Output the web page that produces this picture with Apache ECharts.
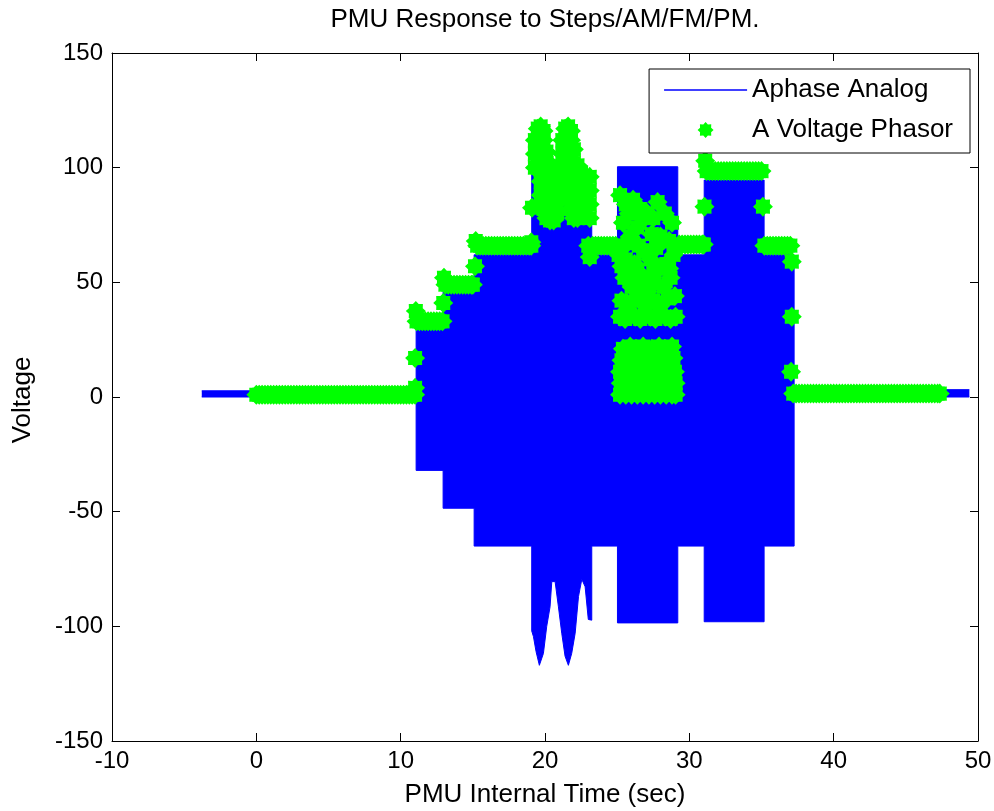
<!DOCTYPE html>
<html>
<head>
<meta charset="utf-8">
<title>PMU Response to Steps/AM/FM/PM.</title>
<script src="https://cdn.jsdelivr.net/npm/echarts@6/dist/echarts.min.js"></script>
<style>
  html, body { margin: 0; padding: 0; background: #fff; }
  #chart { width: 994px; height: 811px; }
</style>
</head>
<body>
<div id="chart"></div>
<script>
// analog waveform: time and upper / lower envelope of the dense sine
const analogT = [-3.78, 11.07, 11.07, 12.94, 12.94, 15.09, 15.09, 19.08, 19.08, 19.2, 19.38, 19.61, 19.89, 20.12, 20.35, 20.47, 20.7, 20.93, 21.16, 21.39, 21.62, 21.85, 22.09, 22.32, 22.55, 22.78, 23.0, 23.24, 23.24, 25.02, 25.02, 29.2, 29.2, 31.03, 31.03, 35.18, 35.18, 37.26, 37.26, 49.4];
const analogHi = [2.7, 2.7, 32, 32, 48.5, 48.5, 62, 62, 102, 104.5, 111, 117, 111.8, 100, 91.5, 80.5, 80.5, 91.5, 103, 113, 117, 111.8, 103, 87, 79.5, 82.7, 97, 97.3, 62, 62, 100.4, 100.4, 62, 62, 94.6, 94.6, 62, 62, 3.2, 3.2];
const analogLo = [0, 0, -32, -32, -48.5, -48.5, -65, -65, -102, -104.5, -111, -117, -111.8, -100, -91.5, -80.5, -80.5, -91.5, -103, -113, -117, -111.8, -103, -87, -79.5, -82.7, -97, -97.3, -65, -65, -98.5, -98.5, -65, -65, -98, -98, -65, -65, 0, 0];

// phasor magnitude: flat stretches (one level each, with their sample times)
const bandLevels = [1, 33, 49, 66, 66, 66.5, 98.5, 66, 1.5];
const bandTimes = [
  [0, 0.2, 0.4, 0.6, 0.8, 1, 1.2, 1.4, 1.6, 1.8, 2, 2.2, 2.4, 2.6, 2.8, 3, 3.2, 3.4, 3.6, 3.8, 4, 4.2, 4.4, 4.6, 4.8, 5, 5.2, 5.4, 5.6, 5.8, 6, 6.2, 6.4, 6.6, 6.8, 7, 7.2, 7.4, 7.6, 7.8, 8, 8.2, 8.4, 8.6, 8.8, 9, 9.2, 9.4, 9.6, 9.8, 10, 10.2, 10.4, 10.6, 10.8, 11],
  [11.1, 11.3, 11.5, 11.7, 11.9, 12.1, 12.3, 12.5, 12.7, 12.9],
  [13.1, 13.3, 13.5, 13.7, 13.9, 14.1, 14.3, 14.5, 14.7, 14.9, 15.0],
  [15.3, 15.5, 15.7, 15.9, 16.1, 16.3, 16.5, 16.7, 16.9, 17.1, 17.3, 17.5, 17.7, 17.9, 18.1, 18.3, 18.5, 18.7, 18.9, 19.05],
  [23.3, 23.5, 23.7, 23.9, 24.1, 24.3, 24.5, 24.7, 24.9],
  [29.3, 29.5, 29.7, 29.9, 30.1, 30.3, 30.5, 30.7, 30.9, 31.0],
  [31.2, 31.4, 31.6, 31.8, 32.0, 32.2, 32.4, 32.6, 32.8, 33.0, 33.2, 33.4, 33.6, 33.8, 34.0, 34.2, 34.4, 34.6, 34.8, 35.0],
  [35.2, 35.4, 35.6, 35.8, 36.0, 36.2, 36.4, 36.6, 36.8, 37.0],
  [37.2, 37.4, 37.6, 37.8, 38, 38.2, 38.4, 38.6, 38.8, 39, 39.2, 39.4, 39.6, 39.8, 40, 40.2, 40.4, 40.6, 40.8, 41, 41.2, 41.4, 41.6, 41.8, 42, 42.2, 42.4, 42.6, 42.8, 43, 43.2, 43.4, 43.6, 43.8, 44, 44.2, 44.4, 44.6, 44.8, 45, 45.2, 45.4, 45.6, 45.8, 46, 46.2, 46.4, 46.6, 46.8, 47, 47.2, 47.35]
];

// phasor samples at the step edges
const phasorEdges = [[11.0, 4], [11.0, 17], [11.05, 37.5], [12.95, 41], [13.0, 52], [15.15, 57], [15.2, 68], [19.05, 67.5], [19.1, 82.5], [23.0, 66], [23.1, 61], [31.05, 83], [31.1, 103], [35.1, 83], [37.1, 59], [37.1, 35], [37.05, 11]];

// phasor samples during the AM section
const phasorAM = [
  [19.3, 100], [19.3, 106], [19.3, 112],
  [19.5, 100], [19.5, 106], [19.5, 112], [19.5, 117],
  [19.6, 109], [19.8, 97], [20.0, 91], [20.2, 99], [20.5, 86], [20.7, 92],
  [19.7, 88], [19.7, 94], [19.7, 100], [19.7, 106], [19.7, 112], [19.7, 118],
  [19.9, 82], [19.9, 88], [19.9, 94], [19.9, 100], [19.9, 106], [19.9, 112], [19.9, 116],
  [20.1, 78], [20.1, 84], [20.1, 90], [20.1, 96], [20.1, 102], [20.1, 107],
  [20.35, 77], [20.35, 83], [20.35, 89], [20.35, 95], [20.35, 100],
  [20.6, 77], [20.6, 83], [20.6, 89], [20.6, 95], [20.6, 100],
  [20.85, 80], [20.85, 86], [20.85, 92],
  [21.2, 100], [21.2, 106], [21.2, 112],
  [21.3, 103], [21.5, 109], [21.7, 97], [21.9, 91], [22.1, 99], [22.4, 87], [22.6, 95], [22.9, 85],
  [21.4, 94], [21.4, 100], [21.4, 106], [21.4, 112], [21.4, 117],
  [21.6, 88], [21.6, 94], [21.6, 100], [21.6, 106], [21.6, 112], [21.6, 118],
  [21.8, 82], [21.8, 88], [21.8, 94], [21.8, 100], [21.8, 106], [21.8, 112], [21.8, 116],
  [22.0, 78], [22.0, 84], [22.0, 90], [22.0, 96], [22.0, 102], [22.0, 108],
  [22.25, 78], [22.25, 84], [22.25, 90], [22.25, 96], [22.25, 101],
  [22.5, 80], [22.5, 86], [22.5, 92], [22.5, 98],
  [22.75, 82], [22.75, 88], [22.75, 94],
  [23.1, 78], [23.1, 84], [23.1, 90], [23.1, 96]
];

// phasor samples during the FM section
const phasorFM = [
  [25.2, 1], [25.6, 1], [26.0, 1], [26.4, 1], [26.8, 1], [27.2, 1], [27.6, 1], [28.0, 1], [28.4, 1], [28.8, 1], [29.05, 1],
  [25.25, 6], [25.65, 6], [26.05, 6], [26.45, 6], [26.85, 6], [27.25, 6], [27.65, 6], [28.05, 6], [28.45, 6], [28.85, 6], [29.05, 6],
  [25.2, 11], [25.6, 12], [26.0, 11], [26.4, 12], [26.8, 11], [27.2, 12], [27.6, 11], [28.0, 12], [28.4, 11], [28.8, 12], [29.0, 11],
  [25.3, 16], [25.7, 17], [26.1, 16], [26.5, 17], [26.9, 16], [27.3, 17], [27.7, 16], [28.1, 17], [28.5, 16], [28.9, 17],
  [25.4, 21], [25.9, 22], [26.3, 21], [26.8, 22], [27.4, 21], [27.9, 22], [28.3, 21], [28.8, 22],
  [25.2, 35], [25.55, 34], [25.9, 36], [26.25, 35], [26.6, 34], [26.95, 36], [27.3, 35], [27.65, 34], [28.0, 36], [28.35, 35], [28.7, 34], [29.05, 35],
  [25.3, 42], [25.8, 40], [26.4, 44], [26.9, 40], [27.5, 42], [28.0, 40], [28.5, 43], [29.0, 44],
  [25.5, 52], [26.0, 48], [26.6, 51], [27.1, 46], [27.6, 50], [28.2, 48], [28.7, 52],
  [25.3, 57], [26.4, 55], [27.5, 54], [28.6, 56],
  [25.1, 62], [25.6, 60], [26.2, 58], [26.8, 64], [27.3, 60], [27.9, 56], [28.4, 58], [28.9, 62],
  [25.7, 67], [26.5, 66], [27.7, 65],
  [25.4, 76], [25.9, 70], [26.4, 74], [26.9, 78], [27.4, 71], [28.0, 70], [28.6, 68],
  [25.8, 80], [26.7, 79], [27.5, 78],
  [25.2, 88], [25.6, 84], [26.1, 86], [26.6, 82], [27.1, 80], [27.8, 85], [28.3, 80], [28.8, 76]
];

const xTicks = { min: -10, max: 50, interval: 10 };
const yTicks = { min: -150, max: 150, interval: 50 };

const font = "'Liberation Sans', Arial, Helvetica, sans-serif";
// fat eight-armed asterisk, like a heavy '*' marker
const starPath = 'path://M20 10L16.93 12.87L17.07 17.07L12.87 16.93L10 20L7.13 16.93L2.93 17.07L3.07 12.87L0 10L3.07 7.13L2.93 2.93L7.13 3.07L10 0L12.87 3.07L17.07 2.93L16.93 7.13Z';
const lineIcon = 'path://M0 0H83V1.6H0Z';

const upper = analogT.map((t, i) => [t, analogHi[i]]);
const lower = analogT.map((t, i) => [t, analogLo[i]]);
let phasor = [];
bandTimes.forEach((times, b) => {
  times.forEach(t => phasor.push([t, bandLevels[b]]));
});
phasor = phasor.concat(phasorEdges, phasorAM, phasorFM);

const axisLine = { show: true, onZero: false, lineStyle: { color: '#000', width: 1 } };
const axisTick = { show: true, inside: true, length: 8, lineStyle: { color: '#000', width: 1 } };
const tickText = { color: '#000', fontSize: 24, fontFamily: font };
const labelText = { color: '#000', fontSize: 26, fontFamily: font };

const chart = echarts.init(document.getElementById('chart'), null, { renderer: 'canvas' });
chart.setOption({
  animation: false,
  backgroundColor: '#fff',
  title: {
    text: 'PMU Response to Steps/AM/FM/PM.',
    left: 545,
    top: 0,
    textAlign: 'center',
    padding: [7, 0, 0, 0],
    textStyle: { color: '#000', fontSize: 26, fontWeight: 'normal', fontFamily: font }
  },
  legend: {
    data: [
      { name: 'Aphase Analog', icon: lineIcon },
      { name: 'A Voltage Phasor', icon: starPath }
    ],
    orient: 'vertical',
    align: 'left',
    right: 24,
    top: 69,
    padding: [8, 17, 10, 15],
    itemGap: 14,
    itemWidth: 83,
    itemHeight: 16,
    symbolKeepAspect: true,
    backgroundColor: '#fff',
    borderColor: '#000',
    borderWidth: 1,
    borderRadius: 0,
    selectedMode: false,
    textStyle: labelText
  },
  grid: { left: 112, right: 16, top: 53, bottom: 70, outerBoundsMode: 'none', containLabel: false },
  xAxis: [
    {
      type: 'value', position: 'bottom', ...xTicks,
      axisLine, axisTick,
      axisLabel: Object.assign({ margin: 8 }, tickText),
      splitLine: { show: false },
      name: 'PMU Internal Time (sec)', nameLocation: 'middle', nameGap: 41,
      nameTextStyle: labelText
    },
    {
      type: 'value', position: 'top', ...xTicks,
      axisLine, axisTick, axisLabel: { show: false }, splitLine: { show: false }
    }
  ],
  yAxis: [
    {
      type: 'value', position: 'left', ...yTicks,
      axisLine, axisTick,
      axisLabel: Object.assign({ margin: 9 }, tickText),
      splitLine: { show: false },
      name: 'Voltage', nameLocation: 'middle', nameGap: 76,
      nameTextStyle: Object.assign({ padding: [0, 6, 0, 0] }, labelText)
    },
    {
      type: 'value', position: 'right', ...yTicks,
      axisLine, axisTick, axisLabel: { show: false }, splitLine: { show: false }
    }
  ],
  series: [
    {
      name: 'Aphase Analog', type: 'line', data: upper, symbol: 'none', silent: true,
      lineStyle: { color: '#0000ff', width: 1 }, itemStyle: { color: '#0000ff' },
      areaStyle: { color: '#0000ff', opacity: 1 }, z: 2
    },
    {
      name: 'Aphase Analog', type: 'line', data: lower, symbol: 'none', silent: true,
      lineStyle: { color: '#0000ff', width: 1 }, itemStyle: { color: '#0000ff' },
      areaStyle: { color: '#0000ff', opacity: 1 }, z: 2
    },
    {
      name: 'A Voltage Phasor', type: 'scatter', data: phasor, silent: true,
      symbol: starPath, symbolSize: 20,
      itemStyle: { color: '#00ff00', opacity: 1 }, z: 3
    }
  ]
});
</script>
</body>
</html>
